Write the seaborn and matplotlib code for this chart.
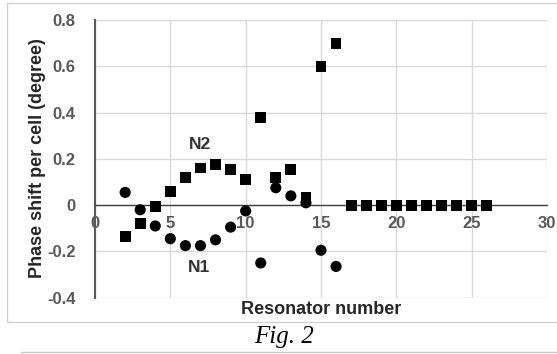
import numpy as np
import pandas as pd
import matplotlib
matplotlib.use('Agg')
import matplotlib.pyplot as plt
import seaborn as sns
from matplotlib.patches import Rectangle
from matplotlib.lines import Line2D

sns.set_theme(style='white')
plt.rcParams['font.family'] = ['Liberation Sans', 'DejaVu Sans']
plt.rcParams['axes.unicode_minus'] = False

########## data ##########
res_n2 = [2, 3, 4, 5, 6, 7, 8, 9, 10, 11, 12, 13, 14, 15, 16,
          17, 18, 19, 20, 21, 22, 23, 24, 25, 26]
shift_n2 = [-0.135, -0.08, -0.005, 0.06, 0.12, 0.16, 0.175, 0.155, 0.11, 0.38,
            0.12, 0.155, 0.035, 0.6, 0.7,
            0, 0, 0, 0, 0, 0, 0, 0, 0, 0]
res_n1 = [2, 3, 4, 5, 6, 7, 8, 9, 10, 11, 12, 13, 14, 15, 16]
shift_n1 = [0.055, -0.02, -0.09, -0.145, -0.175, -0.175, -0.15, -0.095, -0.025,
            -0.25, 0.075, 0.04, 0.01, -0.195, -0.265]
xticks = [0, 5, 10, 15, 20, 25, 30]
yticks = [-0.4, -0.2, 0, 0.2, 0.4, 0.6, 0.8]

df_n2 = pd.DataFrame({'res': res_n2, 'shift': shift_n2})
df_n1 = pd.DataFrame({'res': res_n1, 'shift': shift_n1})

gray = '#595959'
fig = plt.figure(figsize=(5.57, 3.54), dpi=100)
ax = fig.add_axes([95/557, 1-297.7/354, (547-95)/557, (297.7-20)/354])

sns.scatterplot(data=df_n2, x='res', y='shift', marker='s', s=60, color='black',
                edgecolor='none', ax=ax, zorder=4)
sns.scatterplot(data=df_n1, x='res', y='shift', marker='o', s=64, color='black',
                edgecolor='none', ax=ax, zorder=3)

ax.set_xlim(0, 30)
ax.set_ylim(-0.4, 0.8)
ax.set_xticks(xticks)
ax.set_yticks(yticks)
ax.set_yticklabels([f'{v:g}' for v in yticks])
ax.grid(True, color='#d9d9d9', lw=1)
ax.set_axisbelow(True)

for s in ['top', 'right']:
    ax.spines[s].set_visible(False)
ax.spines['bottom'].set_position(('data', 0))
ax.spines['bottom'].set_color('#404040')
ax.spines['bottom'].set_linewidth(1)
ax.spines['left'].set_color('#595959')
ax.spines['left'].set_linewidth(1.5)
ax.tick_params(axis='both', length=0, labelsize=12, labelcolor=gray)
ax.tick_params(axis='x', pad=8)
ax.tick_params(axis='y', pad=14)
for t in ax.get_xticklabels() + ax.get_yticklabels():
    t.set_fontweight('bold')

ax.set_xlabel('')
ax.set_ylabel('')
fig.text(321/557, 1-310/354, 'Resonator number', ha='center', va='center',
         fontsize=13, fontweight='bold', color='#262626')
fig.text(38/557, 1-158/354, 'Phase shift per cell (degree)', ha='center', va='center',
         rotation=90, fontsize=13, fontweight='bold', color='#262626')

ax.text(7, 0.26, 'N2', ha='center', va='center', fontsize=12.5, fontweight='bold', color='#333333')
ax.text(6.9, -0.27, 'N1', ha='center', va='center', fontsize=12.5, fontweight='bold', color='#333333')

# chart frame, caption and rule
fig.patches.append(Rectangle((7/557, 1-322/354), 552/557, 319/354, transform=fig.transFigure,
                             fill=False, edgecolor='#d0d0d0', lw=1))
fig.text(284/557, 1-337/354, 'Fig. 2', ha='center', va='center', fontsize=18,
         style='italic', family=['Liberation Serif', 'DejaVu Serif'], color='black')
fig.lines.append(Line2D([21/557, 1], [1-352/354, 1-352/354], transform=fig.transFigure,
                        color='#c8c8c8', lw=1))

fig.savefig('out.png', dpi=100)
